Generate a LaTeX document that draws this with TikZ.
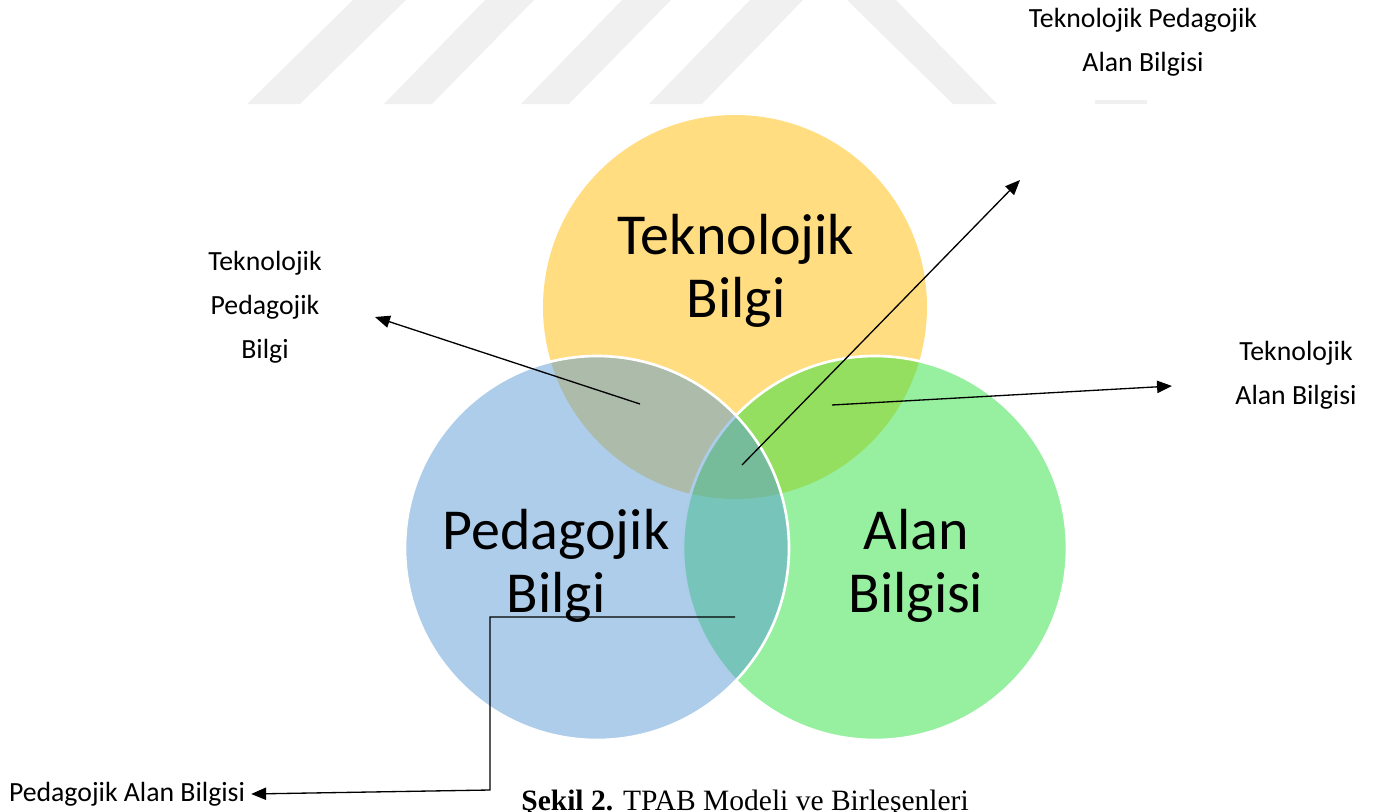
\documentclass[tikz,border=0pt]{standalone}
\usepackage{fontspec}
\setmainfont{Carlito}
\newfontfamily\capfont{Liberation Serif}
\usetikzlibrary{arrows.meta}
\definecolor{tyellow}{RGB}{255,221,128}
\definecolor{tblue}{RGB}{91,155,213}
\definecolor{tgreen}{RGB}{45,225,65}

\begin{document}
\begin{tikzpicture}[x=0.02cm,y=-0.02cm,>={Triangle[length=8.5pt,width=7pt]},
 circ/.style={draw=white,line width=1.5pt,fill opacity=0.5},
 big/.style={font=\fontsize{33}{36}\selectfont,align=center},
 lbl/.style={font=\fontsize{15.8}{25}\selectfont,align=center},
 arr/.style={->,line width=0.75pt},
 wm/.style={fill=black!6}]
\useasboundingbox (0,0) rectangle (1384,812);
% watermark stripes at the top
\fill[wm] (353,0) -- (406,0) -- (300,104) -- (247,104) -- cycle;
\fill[wm] (485,0) -- (534,0) -- (432,104) -- (384,104) -- cycle;
\fill[wm] (622,0) -- (671,0) -- (569,104) -- (521,104) -- cycle;
\fill[wm] (750,0) -- (803,0) -- (702,104) -- (649,104) -- cycle;
\fill[wm] (847,0) -- (896,0) -- (997,104) -- (953,104) -- cycle;
\fill[wm] (1095,100) rectangle (1147,104);
\fill[white] (994,0) rectangle (1290,100);
% the three circles
\fill[tyellow] (735,307) circle[radius=192];
\path[circ,fill=tgreen] (875,548) circle[radius=192];
\path[circ,fill=tblue] (597,548) circle[radius=192];
\node[big] (tb) at (736,271) {Teknolojik\\Bilgi};
\node[big] (pb) at (556,566) {Pedagojik\\Bilgi};
\node[big] (ab) at (916,566) {Alan\\Bilgisi};
% labels of the overlaps
\node[lbl] (tpab) at (1143,42) {Teknolojik Pedagojik\\Alan Bilgisi};
\node[lbl] (tpb) at (265,307) {Teknolojik\\Pedagojik\\Bilgi};
\node[lbl] (tab) at (1296,375) {Teknolojik\\Alan Bilgisi};
\node[lbl] (pab) at (127,794) {Pedagojik Alan Bilgisi};
\coordinate (tpbS) at (640,404); \coordinate (tpbE) at (375,317);
\coordinate (tpabS) at (742,465); \coordinate (tpabE) at (1020,180);
\coordinate (tabS) at (832,405); \coordinate (tabE) at (1172,386);
\coordinate (pabS) at (735,617); \coordinate (pabK) at (490,790);
\draw[arr] (tpbS) -- (tpbE);
\draw[arr] (tpabS) -- (tpabE);
\draw[arr] (tabS) -- (tabE);
\draw[arr] (pabS) -| (pabK) -- (pab.east);
% caption, cut at the lower edge
\node[font=\capfont\fontsize{16.8}{18}\selectfont,anchor=base west,inner sep=0pt] (cap) at (521,810)
 {\textbf{Şekil 2.} TPAB Modeli ve Birleşenleri};
\end{tikzpicture}
\end{document}
